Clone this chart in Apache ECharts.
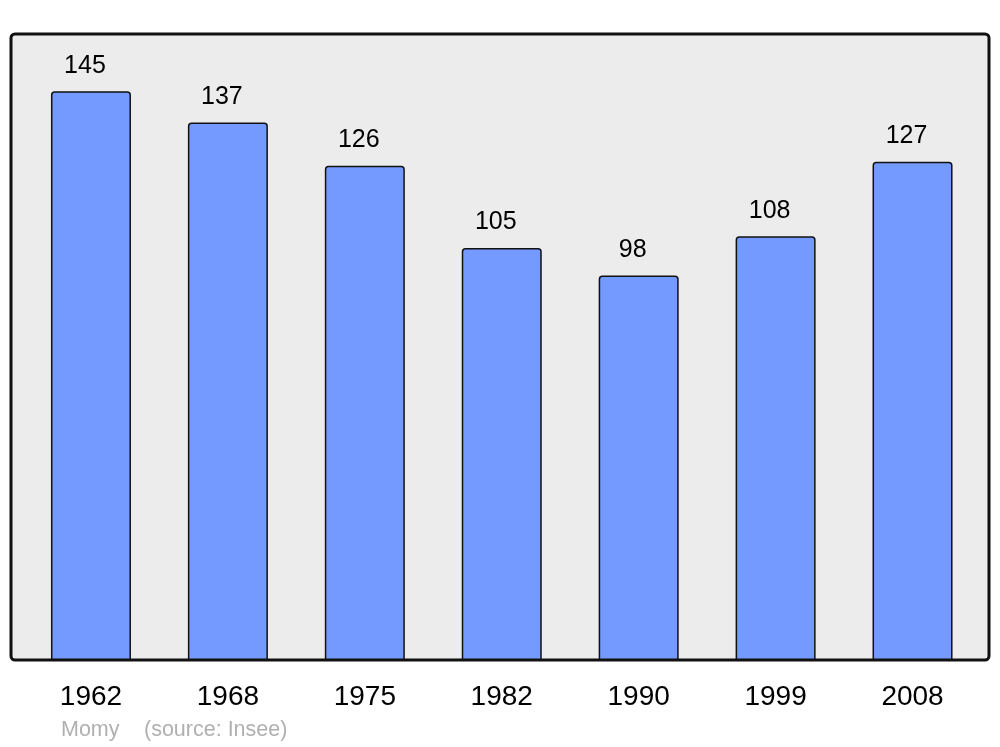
<!DOCTYPE html>
<html>
<head>
<meta charset="utf-8">
<script src="https://cdn.jsdelivr.net/npm/echarts@6/dist/echarts.min.js"></script>
<style>html,body{margin:0;padding:0;background:#fff}#c{width:1000px;height:747px}</style>
</head>
<body>
<div id="c"></div>
<script>
const years = ['1962', '1968', '1975', '1982', '1990', '1999', '2008'];
const population = [145, 137, 126, 105, 98, 108, 127];
const footerName = 'Momy';
const footerSource = '(source: Insee)';

const chart = echarts.init(document.getElementById('c'), null, {renderer: 'canvas'});
chart.setOption({
  animation: false,
  backgroundColor: '#ffffff',
  textStyle: {fontFamily: 'Liberation Sans, Arial, sans-serif'},
  graphic: [
    {type: 'rect', z: -10, shape: {x: 11, y: 34, width: 978, height: 626, r: 4},
     style: {fill: '#ececec', stroke: '#111111', lineWidth: 3}},
    {type: 'text', left: 61, top: 719, style: {text: footerName, fill: '#b0b0b0', fontSize: 21.5, fontFamily: 'Liberation Sans'}},
    {type: 'text', left: 144, top: 719, style: {text: footerSource, fill: '#b0b0b0', fontSize: 21.5, fontFamily: 'Liberation Sans'}}
  ],
  grid: {left: 22.5, right: 19, top: 32.3, bottom: 87, show: false},
  xAxis: {
    type: 'category', data: years,
    axisLine: {show: false}, axisTick: {show: false},
    axisLabel: {fontSize: 28, color: '#000', margin: 23, fontFamily: 'Liberation Sans'}
  },
  yAxis: {
    type: 'value', min: 0, max: 160,
    show: false, splitLine: {show: false}
  },
  series: [{
    type: 'bar', data: population, barWidth: 80,
    itemStyle: {color: '#7499ff', borderColor: '#111111', borderWidth: 1.5, borderRadius: [3, 3, 0, 0]},
    label: {show: true, position: 'top', distance: 13, offset: [-6, 0], fontSize: 25, color: '#000', fontFamily: 'Liberation Sans'}
  }]
});
</script>
</body>
</html>
